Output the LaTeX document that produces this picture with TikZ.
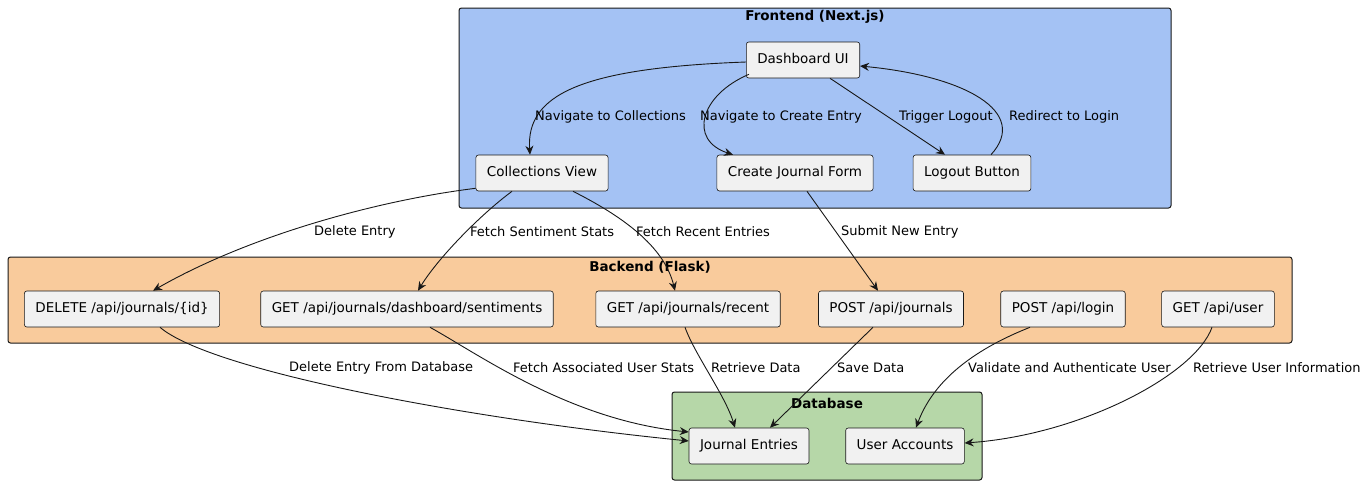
\documentclass[tikz,border=0pt]{standalone}
\usepackage{fontspec}
\setmainfont{DejaVu Sans}
\usetikzlibrary{arrows.meta}
\definecolor{lineC}{HTML}{181818}
\definecolor{nodeC}{HTML}{F1F1F1}
\definecolor{frontC}{HTML}{A4C2F4}
\definecolor{backC}{HTML}{F9CB9C}
\definecolor{dbC}{HTML}{B6D7A8}
\begin{document}
\begin{tikzpicture}[x=1pt,y=-1pt,
  box/.style={draw=lineC,line width=0.6pt,fill=nodeC,rounded corners=2.5pt,minimum height=36pt,inner xsep=11pt,text height=10pt,text depth=3pt,font=\fontsize{13.5}{16}\selectfont},
  group/.style={draw=lineC,line width=1pt,rounded corners=2.5pt},
  title/.style={font=\fontsize{13.5}{16}\selectfont\bfseries},
  lbl/.style={font=\fontsize{13}{15}\selectfont,inner sep=0pt},
  link/.style={draw=lineC,line width=0.9pt,-{Stealth[length=9pt,width=8pt,inset=3pt]}}]
\path[use as bounding box] (0,0) rectangle (1368,485);

% groups
\draw[group,fill=frontC] (459,8) rectangle (1171,208);
\draw[group,fill=backC] (8,257) rectangle (1292,343);
\draw[group,fill=dbC] (672,392) rectangle (982,480);
\node[title] (tfront) at (815,17) {Frontend (Next.js)};
\node[title] (tback) at (650,267) {Backend (Flask)};
\node[title] (tdb) at (827,403) {Database};

% frontend
\node[box] (dash) at (803,60) {Dashboard UI};
\node[box] (coll) at (542,173) {Collections View};
\node[box] (form) at (795,173) {Create Journal Form};
\node[box] (logout) at (972,173) {Logout Button};

% backend
\node[box] (del) at (122,309) {DELETE /api/journals/\{id\}};
\node[box] (sent) at (407,309) {GET /api/journals/dashboard/sentiments};
\node[box] (recent) at (688,309) {GET /api/journals/recent};
\node[box] (postj) at (891,309) {POST /api/journals};
\node[box] (login) at (1063,309) {POST /api/login};
\node[box] (user) at (1218,309) {GET /api/user};

% database
\node[box] (entries) at (749,446) {Journal Entries};
\node[box] (accounts) at (905,446) {User Accounts};

% frontend links
\draw[link] ([yshift=-2pt]dash.west) .. controls (580,68) and (526,95) .. ([xshift=-12pt]coll.north);
\draw[link] ([xshift=3pt,yshift=4pt]dash.south west) .. controls (700,95) and (688,140) .. ([xshift=-62pt]form.north);
\draw[link] ([xshift=27pt]dash.south) -- ([xshift=-27pt]logout.north);
\draw[link] ([xshift=19pt]logout.north) .. controls (1030,112) and (965,76) .. ([yshift=-6pt]dash.east);
\node[lbl,anchor=west] (l1) at (535,117) {Navigate to Collections};
\node[lbl,anchor=west] (l2) at (700,117) {Navigate to Create Entry};
\node[lbl,anchor=west] (l3) at (899,117) {Trigger Logout};
\node[lbl,anchor=west] (l4) at (1009,117) {Redirect to Login};

% frontend to backend
\draw[link] ([yshift=3pt]coll.south west) .. controls (380,200) and (250,235) .. ([xshift=31pt]del.north);
\draw[link] ([xshift=-30pt]coll.south) .. controls (480,215) and (438,258) .. ([xshift=11pt]sent.north);
\draw[link] ([xshift=31pt]coll.south) .. controls (630,220) and (665,250) .. ([xshift=-13pt]recent.north);
\draw[link] ([xshift=12pt]form.south) -- ([xshift=-13pt]postj.north);
\node[lbl,anchor=west] (l5) at (314,232) {Delete Entry};
\node[lbl,anchor=west] (l6) at (470,232) {Fetch Sentiment Stats};
\node[lbl,anchor=west] (l7) at (636,232) {Fetch Recent Entries};
\node[lbl,anchor=west] (l8) at (841,232) {Submit New Entry};

% backend to database
\draw[link] ([xshift=38pt]del.south) .. controls (210,370) and (460,418) .. ([yshift=5pt]entries.west);
\draw[link] ([xshift=23pt]sent.south) .. controls (480,355) and (570,420) .. ([yshift=14pt]entries.west);
\draw[link] ([xshift=-3pt]recent.south) .. controls (695,355) and (725,395) .. ([xshift=-14pt]entries.north);
\draw[link] ([xshift=-18pt]postj.south) -- ([xshift=21pt]entries.north);
\draw[link] ([xshift=-33pt]login.south) .. controls (960,355) and (930,390) .. ([xshift=11pt]accounts.north);
\draw[link] ([xshift=-6pt]user.south) .. controls (1195,375) and (1080,435) .. ([yshift=3pt]accounts.east);
\node[lbl,anchor=west] (l9) at (289,368) {Delete Entry From Database};
\node[lbl,anchor=west] (l10) at (513,368) {Fetch Associated User Stats};
\node[lbl,anchor=west] (l11) at (711,368) {Retrieve Data};
\node[lbl,anchor=west] (l12) at (837,368) {Save Data};
\node[lbl,anchor=west] (l13) at (968,368) {Validate and Authenticate User};
\node[lbl,anchor=west] (l14) at (1193,368) {Retrieve User Information};
\end{tikzpicture}
\end{document}
